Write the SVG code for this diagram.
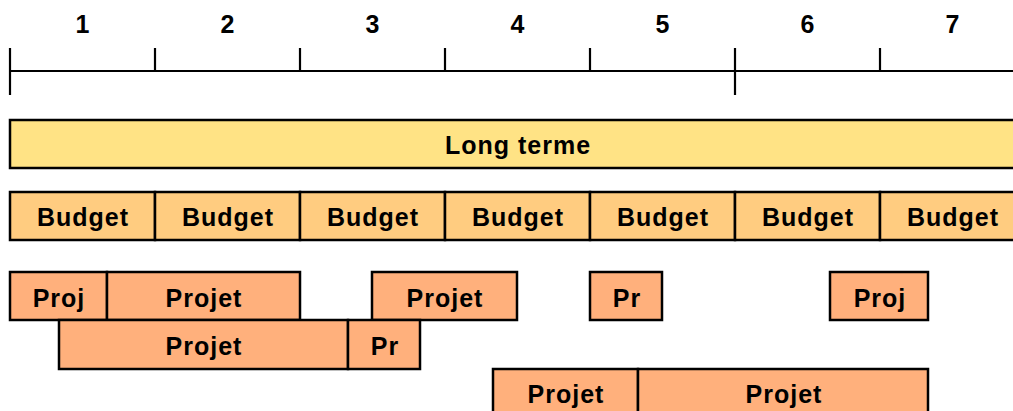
<svg xmlns="http://www.w3.org/2000/svg" width="1013" height="411" viewBox="0 0 1013 411">
<style>
text{font-family:"Liberation Sans",Arial,sans-serif;font-weight:bold;font-size:25px;letter-spacing:1px;fill:#000;text-anchor:middle}
.ax{stroke:#000;stroke-width:2.2;fill:none}
.lt{fill:#FFE385;stroke:#000;stroke-width:2.5}
.bu{fill:#FFCC80;stroke:#000;stroke-width:2.5}
.pr{fill:#FFB07C;stroke:#000;stroke-width:2.5}
</style>
<rect width="1013" height="411" fill="#fff"/>
<g id="timeline">
<line class="ax" x1="10" y1="71" x2="1013" y2="71"/>
<line class="ax" x1="10" y1="48" x2="10" y2="95"/>
<line class="ax" x1="155" y1="48" x2="155" y2="71"/>
<line class="ax" x1="300" y1="48" x2="300" y2="71"/>
<line class="ax" x1="445" y1="48" x2="445" y2="71"/>
<line class="ax" x1="590" y1="48" x2="590" y2="71"/>
<line class="ax" x1="735" y1="48" x2="735" y2="95"/>
<line class="ax" x1="880" y1="48" x2="880" y2="71"/>
<text x="83" y="33">1</text>
<text x="228" y="33">2</text>
<text x="373" y="33">3</text>
<text x="518" y="33">4</text>
<text x="663" y="33">5</text>
<text x="808" y="33">6</text>
<text x="953" y="33">7</text>
</g>
<g id="longterme">
<rect class="lt" x="10" y="120" width="1010" height="48"/>
<text x="518" y="154">Long terme</text>
</g>
<g id="budget1"><rect class="bu" x="10" y="192" width="145" height="48"/><text x="83" y="226">Budget</text></g>
<g id="budget2"><rect class="bu" x="155" y="192" width="145" height="48"/><text x="228" y="226">Budget</text></g>
<g id="budget3"><rect class="bu" x="300" y="192" width="145" height="48"/><text x="373" y="226">Budget</text></g>
<g id="budget4"><rect class="bu" x="445" y="192" width="145" height="48"/><text x="518" y="226">Budget</text></g>
<g id="budget5"><rect class="bu" x="590" y="192" width="145" height="48"/><text x="663" y="226">Budget</text></g>
<g id="budget6"><rect class="bu" x="735" y="192" width="145" height="48"/><text x="808" y="226">Budget</text></g>
<g id="budget7"><rect class="bu" x="880" y="192" width="145" height="48"/><text x="953" y="226">Budget</text></g>
<g id="p1"><rect class="pr" x="10" y="272" width="97" height="48"/><text x="59" y="307">Proj</text></g>
<g id="p2"><rect class="pr" x="107" y="272" width="193" height="48"/><text x="204" y="307">Projet</text></g>
<g id="p3"><rect class="pr" x="372" y="272" width="145" height="48"/><text x="445" y="307">Projet</text></g>
<g id="p4"><rect class="pr" x="590" y="272" width="72" height="48"/><text x="627" y="307">Pr</text></g>
<g id="p5"><rect class="pr" x="830" y="272" width="98" height="48"/><text x="880" y="307">Proj</text></g>
<g id="p6"><rect class="pr" x="59" y="320" width="289" height="49"/><text x="204" y="355">Projet</text></g>
<g id="p7"><rect class="pr" x="348" y="320" width="72" height="49"/><text x="385" y="355">Pr</text></g>
<g id="p8"><rect class="pr" x="493" y="369" width="145" height="50"/><text x="566" y="403">Projet</text></g>
<g id="p9"><rect class="pr" x="638" y="369" width="290" height="50"/><text x="784" y="403">Projet</text></g>
<g id="connectors"></g>
</svg>
